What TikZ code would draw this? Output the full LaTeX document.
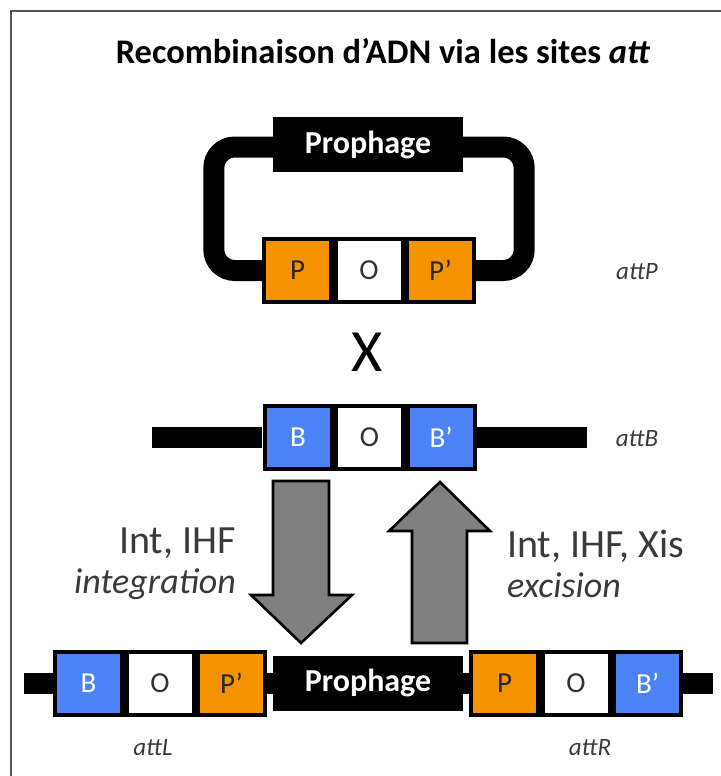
\documentclass[tikz,border=0pt]{standalone}
\usepackage{fontspec}
\setmainfont{Carlito}
\definecolor{orangeP}{RGB}{245,146,0}
\definecolor{blueB}{RGB}{77,132,245}
\definecolor{arrowgray}{RGB}{128,128,128}
\definecolor{textgray}{RGB}{58,58,58}
\definecolor{framegray}{RGB}{85,85,85}

% straight prime mark for P' and B'
\newcommand\prm{\char39}

% one att site: black frame holding three coloured cores
\newcommand\attsite[8]{%
  \node[attframe] (#1) at (#2) {};
  \node[#3] (#1-a) at ([xshift=-71.5pt]#1.center) {#4};
  \node[#5] (#1-b) at (#1.center) {#6};
  \node[#7] (#1-c) at ([xshift=71.5pt]#1.center) {#8};
}

\begin{document}
\begin{tikzpicture}[x=1pt,y=-1pt,
  attframe/.style={fill=black, draw=none, minimum width=214pt, minimum height=67pt, inner sep=0pt},
  site/.style={minimum width=63pt, minimum height=59pt, inner sep=0pt, font=\fontsize{29}{29}\selectfont},
  pbox/.style={site, fill=orangeP, text=black!85},
  obox/.style={site, fill=white, text=black!80},
  bbox/.style={site, fill=blueB, text=white},
  phage/.style={fill=black, text=white, minimum width=190pt, minimum height=55pt, inner sep=0pt,
    font=\bfseries\fontsize{32}{32}\selectfont},
  dna/.style={line width=21pt},
  attlabel/.style={font=\itshape\fontsize{25}{25}\selectfont, text=textgray},
  bigarrow/.style={fill=arrowgray, draw=black, line width=2.6pt, line join=miter},
  enzyme/.style={font=\fontsize{36}{40}\selectfont, text=textgray, inner sep=0pt}
]
\useasboundingbox (0,0) rectangle (720,776);

% outer frame
\draw[framegray, line width=2.5pt] (11,800) -- (11,11) -- (740,11);

% title
\node[font=\bfseries\fontsize{34.5}{34.5}\selectfont] (title) at (383,51)
  {Recombinaison d’ADN via les sites \textit{att}};

% circular phage genome with attP
\node[phage] (topphage) at (368,144.5) {Prophage};
\coordinate (attPpos) at (369,270.5);
\draw[dna, rounded corners=21pt] ([yshift=-2.5pt]topphage.west) -- ++(-59,0) |- (attPpos);
\draw[dna, rounded corners=21pt] ([yshift=-2.5pt]topphage.east) -- ++(61,0) |- (attPpos);
\node[phage] at (topphage) {Prophage};
\attsite{attP}{attPpos}{pbox}{P}{obox}{O}{pbox}{P\prm}
\node[attlabel] (lblP) at (637,272) {attP};

% crossing symbol
\node[font=\fontsize{60}{60}\selectfont] (cross) at (367,352) {X};

% bacterial chromosome with attB
\attsite{attB}{369.5,437}{bbox}{B}{obox}{O}{bbox}{B\prm}
\draw[dna] (attB.west) -- ++(-110,0) coordinate (attBleft);
\draw[dna] (attB.east) -- ++(110,0) coordinate (attBright);
\node[attlabel] (lblB) at (637,439) {attB};

% integration / excision arrows
\draw[bigarrow] (273,481) -- (329,481) -- (329,595) -- (352,595) -- (301,643)
  -- (251,595) -- (273,595) -- cycle;
\draw[bigarrow] (412,643) -- (467,643) -- (467,531) -- (490,531) -- (440,482)
  -- (389,531) -- (412,531) -- cycle;
\node[enzyme, anchor=east, align=right] (integ) at (236,564)
  {{\fontsize{40}{40}\selectfont Int, IHF}\\\itshape integration};
\node[enzyme, anchor=west, align=left] (excis) at (507,564)
  {{\fontsize{40}{40}\selectfont Int, IHF, Xis}\\\itshape excision};

% integrated prophage flanked by attL and attR
\attsite{attL}{160,683}{bbox}{B}{obox}{O}{pbox}{P\prm}
\attsite{attR}{576,683}{pbox}{P}{obox}{O}{bbox}{B\prm}
\node[phage] (botphage) at (368,683) {Prophage};
\draw[dna] (attL.west) -- ++(-29,0) coordinate (attLleft);
\draw[dna] (attL.east) -- (botphage.west);
\draw[dna] (botphage.east) -- (attR.west);
\draw[dna] (attR.east) -- ++(30,0) coordinate (attRright);
\node[attlabel] (lblL) at (153,748) {attL};
\node[attlabel] (lblR) at (590,748) {attR};
\end{tikzpicture}
\end{document}
